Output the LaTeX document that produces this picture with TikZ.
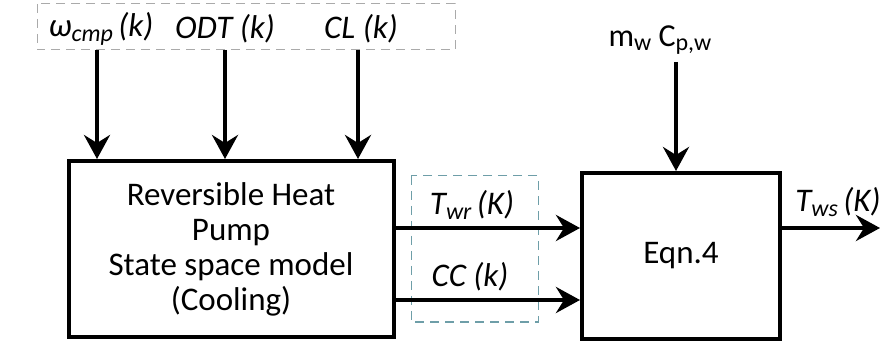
\documentclass[tikz,border=0pt]{standalone}
\usepackage{fontspec}
\setmainfont{Carlito}
\usetikzlibrary{arrows.meta}
\definecolor{inbox}{RGB}{170,170,170}
\definecolor{outbox}{RGB}{110,158,168}
\tikzset{
  block/.style={draw=black, line width=4pt, fill=white, inner sep=0pt},
  flow/.style={line width=4pt, -{Stealth[length=24pt,width=26pt,inset=8pt]}},
  lbl/.style={font=\fontsize{33}{38}\selectfont\itshape, inner sep=0pt},
  grp/.style={dashed, line width=1pt, dash pattern=on 9pt off 6pt}
}
\newcommand{\sbs}[1]{\raisebox{-0.3ex}{\fontsize{24}{26}\selectfont #1}}
\begin{document}
\begin{tikzpicture}[x=1pt,y=-1pt]
\useasboundingbox (0,0) rectangle (880,352);

% input group and its labels
\draw[grp, draw=inbox] (37,4) rectangle (455,50);
\node[lbl] (w) at (101,29) {ω\sbs{cmp}\,(k)};
\node[lbl] (odt) at (225,29) {ODT (k)};
\node[lbl] (cl) at (361,29) {CL (k)};
\coordinate (wa) at (97,50);
\coordinate (oa) at (225,50);
\coordinate (ca) at (358,50);

% heat pump model block
\node[block, minimum width=325pt, minimum height=176pt, align=center,
      font=\fontsize{33}{35}\selectfont] (hp) at (231,249)
  {Reversible Heat\\Pump\\State space model\\(Cooling)};

% equation block
\node[block, minimum width=198pt, minimum height=166pt,
      font=\fontsize{33}{36}\selectfont] (eq) at (681,256) {Eqn.4};

% output group
\draw[grp, draw=outbox] (411,176) rectangle (538,322);

% water parameters
\node[font=\fontsize{32}{36}\selectfont, inner sep=0pt] (mc) at (660,40)
  {m\sbs{w} C\sbs{p,w}};
\coordinate (ma) at (676,62);

% connectors
\draw[flow] (wa) -- (wa |- hp.north);
\draw[flow] (oa) -- (oa |- hp.north);
\draw[flow] (ca) -- (ca |- hp.north);
\draw[flow] (ma) -- (ma |- eq.north);

\coordinate (t1) at (hp.east |- 0,228);
\coordinate (t2) at (hp.east |- 0,300);
\draw[flow] (t1) -- (t1 -| eq.west);
\draw[flow] (t2) -- (t2 -| eq.west);
\coordinate (out) at (880,228);
\draw[flow] (eq.east |- out) -- (out);

% signal labels
\node[lbl] (twr) at (472,205) {T\sbs{wr}\,(K)};
\node[lbl] (cc) at (470,277) {CC (k)};
\node[lbl] (tws) at (838,202) {T\sbs{ws}\,(K)};
\end{tikzpicture}
\end{document}
